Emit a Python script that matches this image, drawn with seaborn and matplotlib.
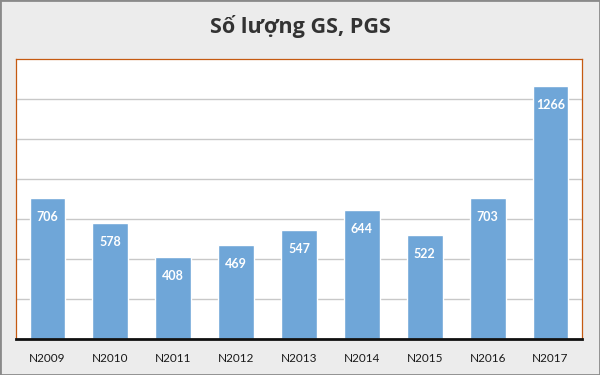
import matplotlib
matplotlib.use('Agg')
import matplotlib.pyplot as plt
import seaborn as sns
from matplotlib.patches import Rectangle

years  = ['N2009', 'N2010', 'N2011', 'N2012', 'N2013', 'N2014', 'N2015', 'N2016', 'N2017']
counts = [706, 578, 408, 469, 547, 644, 522, 703, 1266]
title  = 'Số lượng GS, PGS'

BAR   = '#6fa6d8'
EDGE  = '#c55a11'

sns.set_style('white')
plt.rcParams['font.family'] = ['Lato', 'DejaVu Sans']

fig = plt.figure(figsize=(6, 3.75), dpi=100)
fig.patch.set_facecolor('#ececec')
ax = fig.add_axes([16 / 600, 1 - 339 / 375, 566 / 600, 280 / 375])
ax.set_facecolor('white')

sns.barplot(x=years, y=counts, color=BAR, width=0.57, saturation=1, ax=ax, zorder=2)

ax.set_ylim(0, 1400)
ax.set_xlim(-0.5, len(years) - 0.5)
ax.set_yticks(range(200, 1400, 200))
ax.set_yticklabels([])
ax.tick_params(axis='y', length=0)
ax.tick_params(axis='x', length=0, labelsize=8.5, pad=10, colors='#1a1a1a')
ax.grid(axis='y', color='#c8c8c8', linewidth=1, zorder=0)
ax.set_xlabel('')
ax.set_ylabel('')

for s in ['top', 'right', 'left']:
    ax.spines[s].set_color(EDGE)
    ax.spines[s].set_linewidth(0.9)
ax.spines['bottom'].set_color('#111111')
ax.spines['bottom'].set_linewidth(2)

for cont in ax.containers:
    ax.bar_label(cont, labels=[str(v) for v in counts], padding=-18,
                 color='white', fontsize=9, fontweight='bold')

fig.text(0.5, 1 - 27 / 375, title, ha='center', va='center',
         fontsize=15.5, fontweight='bold', color='#333333',
         family=['Open Sans', 'DejaVu Sans'])

fig.patches.append(Rectangle((0, 0), 1, 1, transform=fig.transFigure,
                             fill=False, edgecolor='#8a8a8a', linewidth=2))

fig.savefig('out.png', dpi=100, facecolor=fig.get_facecolor())
